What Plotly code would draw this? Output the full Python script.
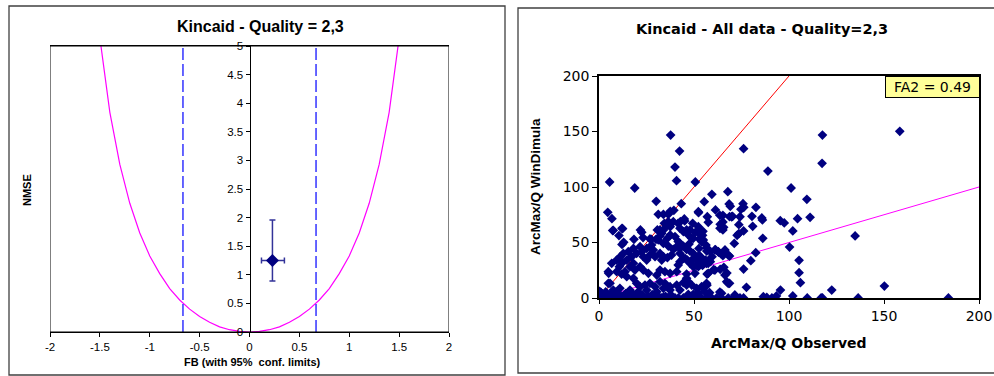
import plotly.graph_objects as go

# ---------------- Left chart data ----------------
fb_curve = [-1.5, -1.4, -1.3, -1.2, -1.1, -1.0, -0.9, -0.8, -0.7, -0.6, -0.5, -0.4, -0.3, -0.2, -0.1, 0.0,
            0.1, 0.2, 0.3, 0.4, 0.5, 0.6, 0.7, 0.8, 0.9, 1.0, 1.1, 1.2, 1.3, 1.4, 1.5]
nmse_curve = [5.14, 3.84, 2.93, 2.25, 1.73, 1.33, 1.02, 0.76, 0.56, 0.40, 0.27, 0.17, 0.09, 0.04, 0.01, 0.0,
              0.01, 0.04, 0.09, 0.17, 0.27, 0.40, 0.56, 0.76, 1.02, 1.33, 1.73, 2.25, 2.93, 3.84, 5.14]
fb_limit_left = [-0.667, -0.667]
fb_limit_right = [0.667, 0.667]
limit_y = [0, 5]
fb_point = [0.23]
nmse_point = [1.25]
fb_err_plus = [0.12]
fb_err_minus = [0.11]
nmse_err_plus = [0.71]
nmse_err_minus = [0.36]
left_xticks = [-2, -1.5, -1, -0.5, 0, 0.5, 1, 1.5, 2]
left_xticklabels = ["-2", "-1.5", "-1", "-0.5", "0", "0.5", "1", "1.5", "2"]
left_yticks = [0, 0.5, 1, 1.5, 2, 2.5, 3, 3.5, 4, 4.5, 5]

# ---------------- Right chart data ----------------
obs_sparse = [37.7, 42.4, 40, 40.8, 50.7, 5.6, 18.8, 76.1, 88.9, 117.6, 117.4, 158.3, 101.1, 109.4, 111.1, 104.5,
              102, 100.3, 105.3, 105.3, 106, 134.8, 122.5, 150.2, 136.4, 183.9, 116.9, 117.6, 109.6, 102, 95.5, 93.4,
              91, 88.3, 95.4, 97.5, 85.7, 86, 86.2, 82.6, 80.5, 80.9, 82.5, 79.9, 77.6, 76.1, 75.8, 76.2, 74.7, 76.1,
              73.6, 72.7, 73.6, 71.2, 70.3, 67.8, 68.5, 69.1, 68.7, 65.2, 63.6, 61.3, 59.4, 55.4, 52.4, 43.3, 39.4,
              37.5, 30.1, 4.6, 6.8, 7.5, 12.4]
sim_sparse = [146.8, 132.4, 118, 105.7, 104.5, 104.5, 99.1, 134.5, 114.4, 146.8, 121.3, 150.2, 99.1, 88.9, 72.7, 71.5,
              60.4, 45.9, 33.9, 22.8, 13.8, 55.9, 7.2, 10.8, 0, 0, 0, 0, 0, 1.8, 7.2, 1.8,
              0, 0.6, 69.7, 67.6, 72.1, 70.3, 53.8, 81.7, 73.6, 64.6, 40.8, 33.6, 9.6, 26.1, 85, 81.7, 79.9, 60.4,
              58, 56.5, 66.1, 49.2, 73.6, 95.8, 84.7, 82.6, 73.3, 74.5, 74.5, 79.3, 93.4, 86.8, 76.9, 85, 79,
              78.1, 87.1, 77.2, 71.5, 61, 62.5]

obs_cluster = [12.1, 7.2, 10.5, 12.1, 13, 18.4, 21.8, 22.5, 23.2, 26.8, 27.5, 30, 30.7, 32.1, 33, 33.9, 34.4, 36.5,
               37.5, 35.6, 39.1, 41.6, 42.8, 45.1, 46.1, 47.9, 49.3, 52.3, 53.2, 50.7, 53.7, 42.6, 44.4, 37.5, 40, 36,
               32.1, 31.2, 33.9, 36.5, 39.1, 40.9, 42.6, 44.4, 46.1, 47.9, 49.6, 52.5, 49.6, 47.4, 54.9, 56.3, 52.6,
               53.5, 56.1, 56.7, 27.7, 28.6, 25.1, 21.6, 18.1, 15.4, 12.8, 11.2, 9.3, 12.5, 10.7, 9.3, 11.9, 6.7, 4.9,
               5.8, 5.1, 4.9, 4, 14.6, 17.2, 19.8, 22.5, 23.3, 25.1, 26.8, 29.5, 32.1, 33.9, 33, 36, 38.2, 42.6, 44.4,
               46.5, 42.6, 47.9, 49.6, 52.3, 54.9, 57.5, 50.5, 46.1, 40.9, 37.4, 34.7, 32.1, 30.4, 26, 23.3, 21.6,
               18.9, 18.1, 16.3, 13.7, 14.6, 18.1, 19.8, 21.6, 24.2, 26.8, 29.5, 32.1, 34.7, 37.4, 40.9, 44.4, 46.1,
               48.8, 51.4, 54, 56.7, 42.6, 37.4, 33.9, 30.4, 25.1, 20.7, 16.3, 11, 7.5,
               36.5, 33.9, 31.2, 52.3, 57, 44.9, 74.2, 69.8]
sim_cluster = [62.8, 60.7, 56.2, 48.3, 50.2, 52.9, 61.3, 59.2, 54.4, 53.2, 52.9, 52.9, 61.3, 61.3, 58.3, 61.3, 67.3, 68.8,
               64.3, 64.9, 68.8, 67.3, 68.8, 69.4, 61.3, 61.3, 67.3, 64.3, 61.3, 59.2, 56.5, 62.8, 59.8, 56.8, 55.3, 53.8,
               55.9, 52.3, 49.2, 46.8, 43.8, 46.2, 49.2, 46.8, 43.8, 42.3, 40.2, 38.1, 53.8, 48.6, 52.3, 47.7, 44.7,
               37.2, 34.2, 42.3, 47.7, 43.2, 44.7, 46.2, 44.7, 41.7, 40.2, 37.2, 34.2, 32.1, 28.2, 23.7, 21.6, 31.2, 23.7,
               13.2, 22.2, 13.2, 4.2, 34.2, 37.2, 40.2, 41.7, 37.2, 34.2, 38.7, 37.2, 40.2, 37.2, 34.2, 36.3, 38.7, 40.2, 35.7,
               34.2, 32.7, 31.2, 28.2, 28.2, 30.6, 31.2, 22.2, 21.6, 23.7, 22.2, 23.7, 25.2, 20.7, 22.2, 25.2, 28.2,
               25.2, 31.2, 28.2, 23.7, 19.2, 17.7, 13.2, 10.2, 11.7, 13.2, 10.2, 14.7, 13.2, 10.2, 11.7, 13.8, 17.7,
               11.7, 8.7, 10.2, 11.7, 7.2, 7.2, 8.7, 5.7, 7.2, 5.7, 7.2, 8.7, 7.2,
               75.4, 75.4, 75.4, 77.7, 73.2, 71.2, 73.2, 73.2]

obs_mid = [86.5, 63.7, 66.3, 68, 61, 62.8, 58.6, 59.5, 58.6, 53.1, 51.4, 48.8, 45.3, 47, 48.8, 52.3, 54, 41.7, 42.6,
           41.7, 61, 57.5, 66.3, 67.2, 56.6, 47, 46.1, 55.7, 64.5, 71.5, 68, 49.6, 52.3, 47,
           68.7, 67.3, 65.7, 63.8, 60.3, 63.6, 58.2, 56.7, 56.9, 57.9, 56.6, 54.5, 53.3, 51.7, 51.5, 61.3, 62.9,
           65.2, 64.2, 68.7, 65.2, 65.6, 63.8, 65.2, 54.7, 54.5, 57.5, 52.8, 56.7]
sim_mid = [1.2, 62.8, 43.3, 38.7, 43.3, 41.7, 41.7, 37.2, 32.7, 32.7, 29.7, 34.2, 35.7, 56.8, 53.8, 59.8, 50.8, 50.8, 44.8,
           29.7, 25.2, 22.2, 20.7, 14.7, 13.2, 14.7, 11.7, 5.7, 4.2, 2.7, 13.2, 3.3, 4.8, 3.3,
           13.2, 22.5, 27.6, 25.8, 25.5, 5.4, 4.8, 11.4, 21.6, 33.9, 31.2, 29.4, 31.8, 33.3, 36, 43.5, 41.4,
           38.1, 39.9, 37.8, 61.3, 63.7, 66.4, 68.5, 60.1, 56.5, 68.2, 53.2, 45.3]

obs_low = [0, 0.4, 0.8, 1.2, 1.6, 2, 2.5, 3, 3.5, 4, 4.5, 5, 6, 7, 8, 9, 10, 11, 12, 13, 14, 15, 16, 17, 18, 19, 20,
           21, 22, 23, 24, 25, 26, 27, 28, 29, 30, 31, 32, 33, 34, 35, 36, 37, 38, 39, 40, 41.8, 44.4, 47, 49.6,
           51.4, 54, 56.6, 59.3, 61.9, 64.5, 68, 70.7, 72.5, 74.2, 76.1,
           0.5, 1, 2, 1.5, 3, 2.5, 4, 0.8, 3.5, 5, 0.3, 6, 8, 10, 12, 14, 16, 18, 20, 23, 26, 28, 31, 35, 38, 9, 7]
sim_low = [0, 0.5, 0, 1, 0, 0.5, 0, 1, 0, 0.5, 0, 0, 0.5, 0, 1, 0, 0, 0.5, 0, 0, 1, 0, 0, 0.5, 0, 0, 1,
           0, 0, 0.5, 0, 0, 0, 1, 0, 0, 0.5, 0, 0, 0, 1, 0, 0, 0.5, 0, 0, 0, 0, 0, 0.5, 0,
           0, 0, 0, 0, 0, 0, 0, 0, 0, 0, 0,
           3, 5, 2.5, 4, 3, 1.5, 2, 1.2, 5.5, 1, 6, 3, 2, 3, 1.5, 4, 2, 3.5, 1, 2.5, 1.5, 3, 2, 1.5, 2.5, 5, 4]

obs_all = obs_sparse + obs_cluster + obs_mid + obs_low
sim_all = sim_sparse + sim_cluster + sim_mid + sim_low

factor2_upper_x = [0, 101]
factor2_upper_y = [0, 202]
factor2_lower_x = [0, 200]
factor2_lower_y = [0, 100]
right_ticks = [0, 50, 100, 150, 200]
fa2_text = "FA2 = 0.49"

FONT = "Arial, 'Liberation Sans', sans-serif"
WIDE = "'DejaVu Sans', Verdana, sans-serif"
NAVY = "#000080"

fig = go.Figure()

# Left chart traces
fig.add_trace(go.Scatter(x=fb_curve, y=nmse_curve, mode="lines",
                         line=dict(color="#FF00FF", width=1.2), xaxis="x", yaxis="y", hoverinfo="skip"))
fig.add_trace(go.Scatter(x=fb_limit_left, y=limit_y, mode="lines",
                         line=dict(color="#0000FF", width=1.2, dash="12px,4px"), xaxis="x", yaxis="y"))
fig.add_trace(go.Scatter(x=fb_limit_right, y=limit_y, mode="lines",
                         line=dict(color="#0000FF", width=1.2, dash="12px,4px"), xaxis="x", yaxis="y"))
fig.add_trace(go.Scatter(x=fb_point, y=nmse_point, mode="markers",
                         marker=dict(symbol="diamond", size=10, color=NAVY),
                         error_x=dict(type="data", array=fb_err_plus, arrayminus=fb_err_minus,
                                      color="#333399", thickness=1.5, width=3),
                         error_y=dict(type="data", array=nmse_err_plus, arrayminus=nmse_err_minus,
                                      color="#333399", thickness=1.5, width=3),
                         xaxis="x", yaxis="y"))

# Right chart traces
fig.add_trace(go.Scatter(x=factor2_upper_x, y=factor2_upper_y, mode="lines",
                         line=dict(color="#FF0000", width=1), xaxis="x2", yaxis="y2"))
fig.add_trace(go.Scatter(x=factor2_lower_x, y=factor2_lower_y, mode="lines",
                         line=dict(color="#FF00FF", width=1), xaxis="x2", yaxis="y2"))
fig.add_trace(go.Scatter(x=obs_all, y=sim_all, mode="markers",
                         marker=dict(symbol="diamond", size=7.5, color=NAVY, line=dict(width=0)),
                         xaxis="x2", yaxis="y2"))

W, H = 994, 376
def px(x):
    return x / W
def py(y):
    return 1 - y / H

axis_common = dict(showgrid=False, zeroline=False, showline=True, linecolor="black", automargin=False,
                   ticks="outside", tickcolor="black", fixedrange=True)

fig.update_layout(
    width=W, height=H, margin=dict(l=0, r=0, t=0, b=0, pad=0, autoexpand=False),
    paper_bgcolor="white", plot_bgcolor="white", showlegend=False,
    font=dict(family=FONT, color="black"),
    xaxis=dict(domain=[px(50), px(449)], range=[-2, 2], tickvals=left_xticks, ticktext=left_xticklabels,
               ticklen=4, linewidth=1.3, mirror=True, anchor="y", tickfont=dict(size=11.5), **axis_common),
    yaxis=dict(domain=[py(332), py(46)], range=[0, 5], tickvals=left_yticks, ticklen=4, linewidth=1,
               anchor="free", position=px(249.5), tickfont=dict(size=11.5), **axis_common),
    xaxis2=dict(domain=[px(599), px(979)], range=[0, 200], tickvals=right_ticks, ticklen=4, linewidth=1.5,
                mirror=True, anchor="y2", tickfont=dict(size=14, family=WIDE), **axis_common),
    yaxis2=dict(domain=[py(298), py(76)], range=[0, 200], tickvals=right_ticks, ticklen=5, linewidth=1.5,
                mirror=True, anchor="x2", tickfont=dict(size=14, family=WIDE), **axis_common),
    shapes=[
        # left chart frame
        dict(type="rect", xref="x", yref="y", x0=-2, x1=2, y0=0, y1=5,
             line=dict(color="black", width=1)),
        # outer panel borders
        dict(type="rect", xref="paper", yref="paper", x0=px(9), x1=px(505), y0=py(375), y1=py(6),
             line=dict(color="#404040", width=1.3)),
        dict(type="rect", xref="paper", yref="paper", x0=px(518), x1=px(1000), y0=py(373), y1=py(8),
             line=dict(color="#404040", width=1.3)),
    ],
    annotations=[
        dict(text="<b>Kincaid - Quality = 2,3</b>", x=px(260), y=py(27), xref="paper", yref="paper",
             showarrow=False, font=dict(size=16), xanchor="center", yanchor="middle"),
        dict(text="<b>NMSE</b>", x=px(27), y=py(190), xref="paper", yref="paper", textangle=-90,
             showarrow=False, font=dict(size=11), xanchor="center", yanchor="middle"),
        dict(text="<b>FB (with 95%  conf. limits)</b>", x=px(252), y=py(362), xref="paper", yref="paper",
             showarrow=False, font=dict(size=11), xanchor="center", yanchor="middle"),
        dict(text="<b>Kincaid - All data - Quality=2,3</b>", x=px(762), y=py(29), xref="paper", yref="paper",
             showarrow=False, font=dict(size=14.5, family=WIDE), xanchor="center", yanchor="middle"),
        dict(text="<b>ArcMax/Q Observed</b>", x=px(789), y=py(343), xref="paper", yref="paper",
             showarrow=False, font=dict(size=14, family=WIDE), xanchor="center", yanchor="middle"),
        dict(text="<b>ArcMax/Q WinDimula</b>", x=px(535), y=py(187), xref="paper", yref="paper",
             textangle=-90, showarrow=False, font=dict(size=13.5), xanchor="center", yanchor="middle"),
        dict(text=fa2_text, x=px(932), y=py(86.5), xref="paper", yref="paper", showarrow=False,
             font=dict(size=14, family=WIDE), bgcolor="#FFFF99", bordercolor="black", borderwidth=1,
             borderpad=2, width=89, xanchor="center", yanchor="middle"),
    ],
)

fig.write_html("out.html", config={"displayModeBar": False},
               post_script="document.body.style.margin='0';document.body.style.overflow='hidden';")
